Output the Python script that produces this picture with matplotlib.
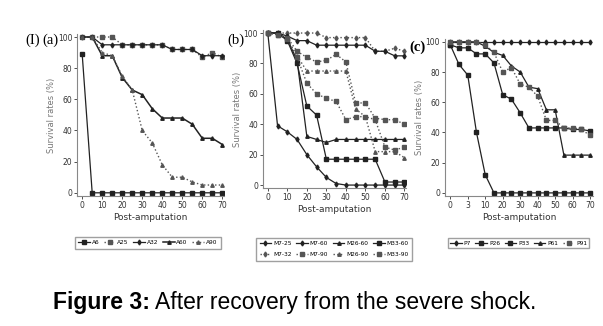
import matplotlib.pyplot as plt

# panel (a): days 0..70 step 5
days_a = [0, 5, 10, 15, 20, 25, 30, 35, 40, 45, 50, 55, 60, 65, 70]
a6 = [89, 0, 0, 0, 0, 0, 0, 0, 0, 0, 0, 0, 0, 0, 0]
a25 = [100, 100, 100, 100, 95, 95, 95, 95, 95, 92, 92, 92, 87, 90, 87]
a32 = [100, 100, 95, 95, 95, 95, 95, 95, 95, 92, 92, 92, 88, 88, 88]
a60 = [100, 100, 88, 88, 74, 66, 63, 54, 48, 48, 48, 44, 35, 35, 31]
a90 = [100, 100, 90, 88, 75, 66, 40, 32, 18, 10, 10, 7, 5, 5, 5]

# panel (b)
days_b = days_a
m7_25 = [100, 39, 35, 30, 20, 12, 5, 1, 0, 0, 0, 0, 0, 0, 0]
m7_32 = [100, 100, 100, 100, 100, 100, 97, 97, 97, 97, 97, 88, 88, 90, 88]
m7_60 = [100, 100, 98, 95, 95, 92, 92, 92, 92, 92, 92, 88, 88, 85, 85]
m7_90 = [100, 99, 97, 88, 84, 81, 82, 86, 81, 54, 54, 44, 43, 43, 40]
m26_60 = [100, 100, 96, 82, 32, 30, 28, 30, 30, 30, 30, 30, 30, 30, 30]
m26_90 = [100, 99, 96, 85, 75, 75, 75, 75, 75, 50, 45, 22, 22, 22, 18]
m33_60 = [100, 100, 95, 80, 52, 46, 17, 17, 17, 17, 17, 17, 2, 2, 2]
m33_90 = [100, 99, 96, 84, 67, 60, 57, 55, 43, 45, 45, 43, 25, 23, 25]

# panel (c): uneven sampling days, drawn as categories
days_c = [0, 1, 3, 7, 10, 15, 20, 25, 30, 35, 40, 45, 50, 55, 60, 65, 70]
tick_labels_c = ["0", "3", "10", "20", "30", "40", "50", "60", "70"]
p7 = [100] * 17
p26 = [98, 85, 78, 40, 12, 0, 0, 0, 0, 0, 0, 0, 0, 0, 0, 0, 0]
p33 = [98, 96, 96, 92, 92, 86, 65, 62, 53, 43, 43, 43, 43, 43, 42, 42, 41]
p61 = [100, 100, 100, 100, 97, 93, 91, 84, 80, 70, 69, 55, 55, 25, 25, 25, 25]
p91 = [100, 100, 100, 100, 98, 93, 80, 83, 72, 70, 64, 48, 48, 43, 43, 42, 38]

dark = '#222222'
grey = '#555555'


def style_axis(ax):
    ax.spines['top'].set_visible(False)
    ax.spines['right'].set_visible(False)
    ax.spines['left'].set_color('#888888')
    ax.spines['bottom'].set_color('#888888')
    ax.spines['left'].set_linewidth(0.8)
    ax.spines['bottom'].set_linewidth(0.8)
    ax.set_ylim(-2, 102)
    ax.set_yticks([0, 20, 40, 60, 80, 100])
    ax.tick_params(labelsize=5.5, colors='#333333', length=2, width=0.6, pad=1.5)
    ax.set_ylabel('Survival rates (%)', fontsize=6, color='#777777', labelpad=1)
    ax.set_xlabel('Post-amputation', fontsize=6.5, color='#333333', labelpad=2)


fig = plt.figure(figsize=(6.03, 3.26), dpi=100)

# (a)
ax1 = fig.add_axes([0.128, 0.399, 0.244, 0.497])
ax1.plot(days_a, a6, '-', color=dark, lw=0.9, marker='s', ms=2.5, label='A6')
ax1.plot(days_a, a25, ':', color=grey, lw=1.0, marker='s', ms=2.5, label='A25')
ax1.plot(days_a, a32, '-', color=dark, lw=0.9, marker='d', ms=2.5, label='A32')
ax1.plot(days_a, a60, '-', color=dark, lw=1.1, marker='^', ms=2.5, label='A60')
ax1.plot(days_a, a90, ':', color=grey, lw=1.0, marker='^', ms=2.5, label='A90')
ax1.set_xlim(-2.5, 71)
ax1.set_xticks(range(0, 71, 10))
style_axis(ax1)
ax1.legend(loc='center', bbox_to_anchor=(0.245, 0.255), bbox_transform=fig.transFigure,
           ncol=5, fontsize=4.2, frameon=True, fancybox=False, edgecolor='#888888',
           handlelength=2.0, handletextpad=0.3, columnspacing=0.8, borderpad=0.6)

# (b)
ax2 = fig.add_axes([0.436, 0.423, 0.238, 0.485])
ax2.plot(days_b, m7_25, '-', color=dark, lw=0.9, marker='d', ms=2.5, label='M7-25')
ax2.plot(days_b, m7_32, ':', color=grey, lw=1.0, marker='d', ms=2.5, label='M7-32')
ax2.plot(days_b, m7_60, '-', color=dark, lw=0.9, marker='d', ms=2.5, label='M7-60')
ax2.plot(days_b, m7_90, ':', color=grey, lw=1.0, marker='s', ms=2.5, label='M7-90')
ax2.plot(days_b, m26_60, '-', color=dark, lw=0.9, marker='^', ms=2.5, label='M26-60')
ax2.plot(days_b, m26_90, ':', color=grey, lw=1.0, marker='^', ms=2.5, label='M26-90')
ax2.plot(days_b, m33_60, '-', color=dark, lw=0.9, marker='s', ms=2.5, label='M33-60')
ax2.plot(days_b, m33_90, ':', color=grey, lw=1.0, marker='s', ms=2.5, label='M33-90')
ax2.set_xlim(-2.5, 71)
ax2.set_xticks(range(0, 71, 10))
style_axis(ax2)
ax2.legend(loc='center', bbox_to_anchor=(0.554, 0.236), bbox_transform=fig.transFigure,
           ncol=4, fontsize=4.2, frameon=True, fancybox=False, edgecolor='#888888',
           handlelength=2.0, handletextpad=0.3, columnspacing=0.8, borderpad=0.6,
           labelspacing=1.0)

# (c)
ax3 = fig.add_axes([0.738, 0.399, 0.245, 0.482])
xc = list(range(len(days_c)))
ax3.plot(xc, p7, '-', color=dark, lw=0.9, marker='d', ms=2.5, label='P7')
ax3.plot(xc, p26, '-', color=dark, lw=0.9, marker='s', ms=2.5, label='P26')
ax3.plot(xc, p33, '-', color=dark, lw=0.9, marker='s', ms=2.5, label='P33')
ax3.plot(xc, p61, '-', color=dark, lw=0.9, marker='^', ms=2.5, label='P61')
ax3.plot(xc, p91, ':', color=grey, lw=1.0, marker='s', ms=2.5, label='P91')
ax3.set_xlim(-0.6, 16.3)
ax3.set_xticks(xc[::2])
ax3.set_xticklabels(tick_labels_c)
style_axis(ax3)
ax3.legend(loc='center', bbox_to_anchor=(0.86, 0.254), bbox_transform=fig.transFigure,
           ncol=5, fontsize=4.2, frameon=True, fancybox=False, edgecolor='#888888',
           handlelength=2.0, handletextpad=0.3, columnspacing=0.8, borderpad=0.4)

# panel letters
fig.text(0.054, 0.877, '(I)', fontsize=10.5, family='Liberation Serif', ha='center', va='center')
fig.text(0.083, 0.877, '(a)', fontsize=10.5, family='Liberation Serif', ha='center', va='center')
fig.text(0.392, 0.877, '(b)', fontsize=10.5, family='Liberation Serif', ha='center', va='center')
fig.text(0.693, 0.856, '(c)', fontsize=10.5, family='Liberation Serif', fontweight='bold',
         ha='center', va='center')

# caption
fig.text(0.249, 0.052, 'Figure 3:', fontsize=16.5, family='Liberation Sans', fontweight='bold',
         ha='right', va='baseline')
fig.text(0.257, 0.052, 'After recovery from the severe shock.', fontsize=16.5,
         family='Liberation Sans', ha='left', va='baseline')

fig.savefig('out.png', dpi=100)
